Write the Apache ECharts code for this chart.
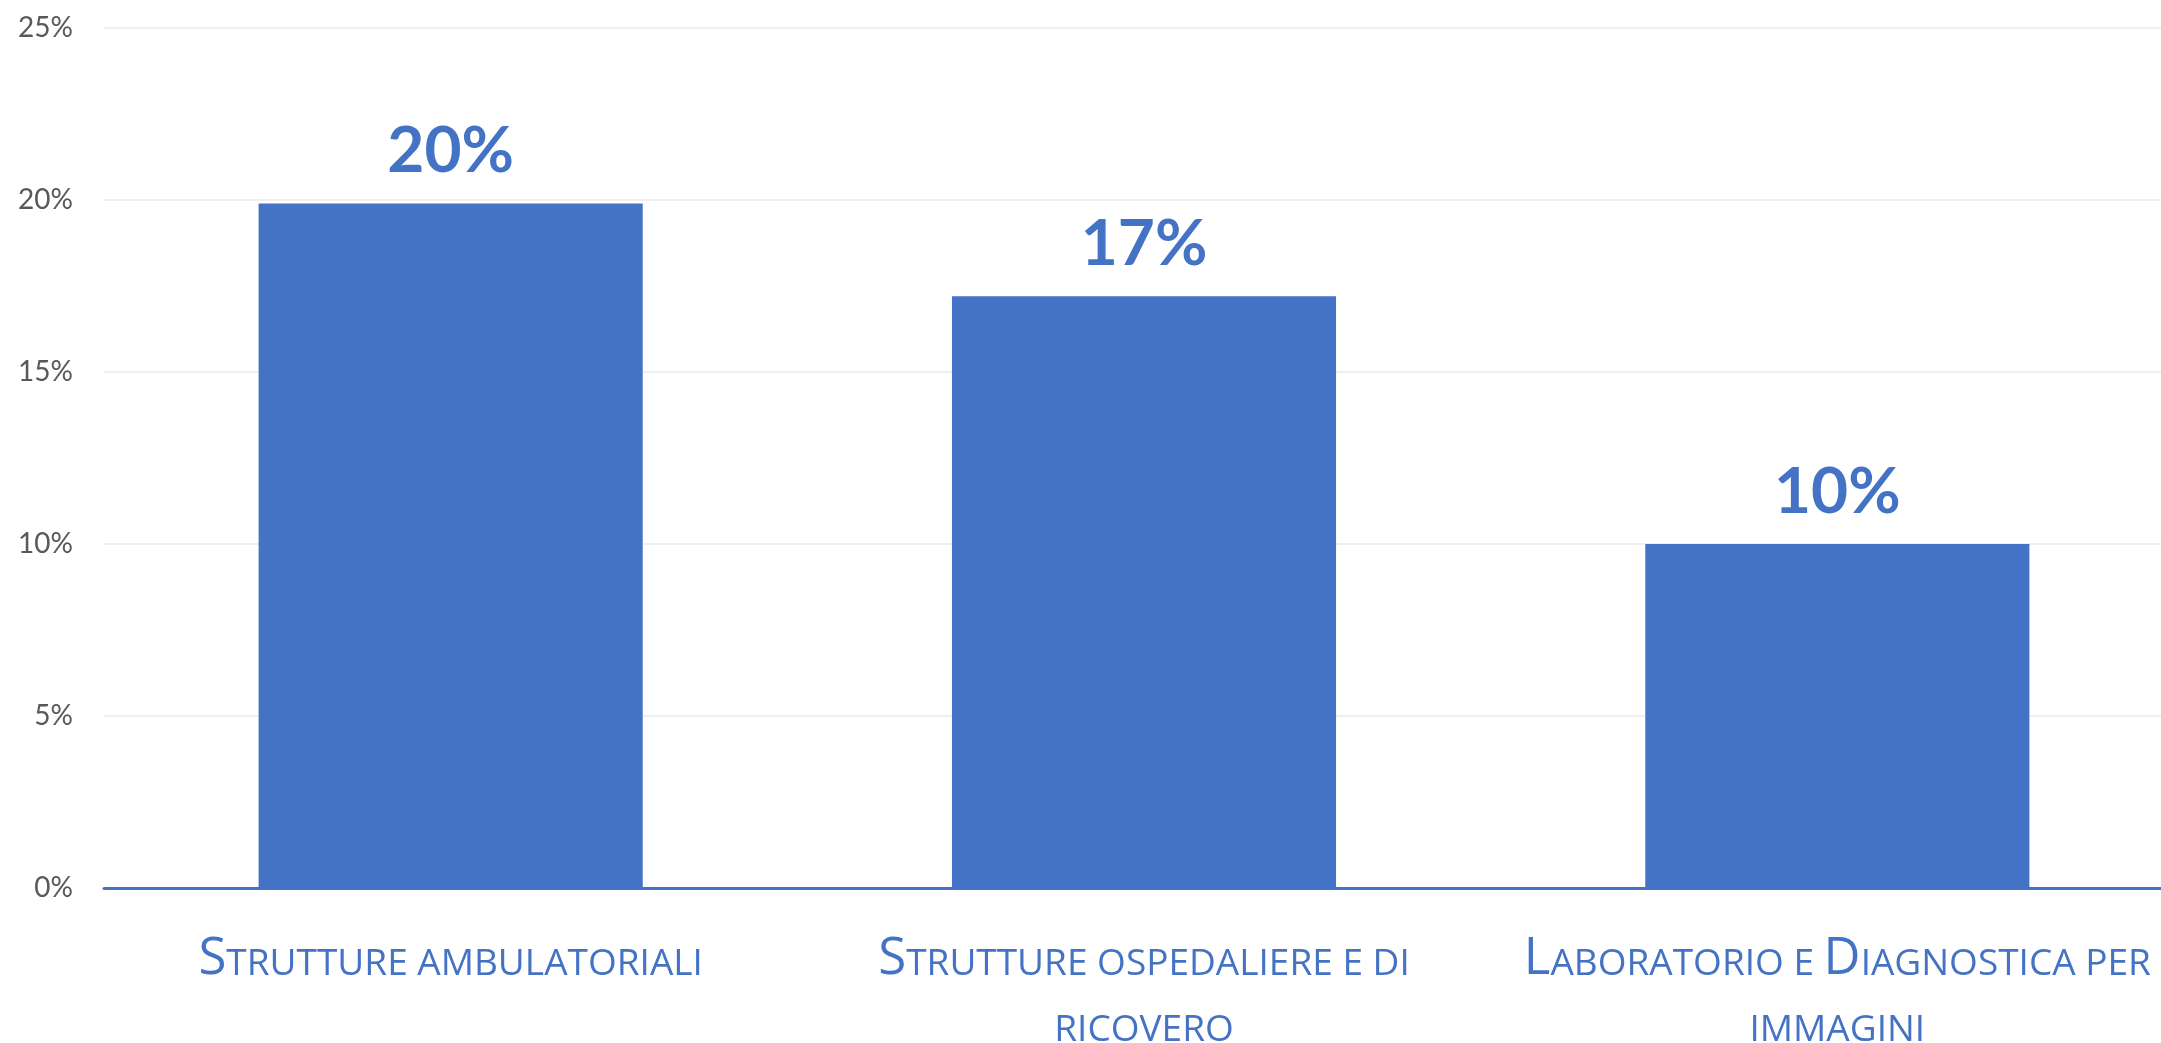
<!DOCTYPE html>
<html>
<head>
<meta charset="utf-8">
<title>Strutture</title>
<script src="https://cdn.jsdelivr.net/npm/echarts@6/dist/echarts.min.js"></script>
<style>
  html, body { margin: 0; padding: 0; background: #fff; }
  #chart { width: 2161px; height: 1043px; }
</style>
</head>
<body>
<div id="chart"></div>
<script>
  const categories = [
    'Strutture ambulatoriali',
    'Strutture ospedaliere e di\nricovero',
    'Laboratorio e Diagnostica per\nimmagini'
  ];
  const values = [19.9, 17.2, 10.0];
  const valueLabels = ['20%', '17%', '10%'];
  const yTicks = [0, 5, 10, 15, 20, 25];

  const blue = '#4472C4';

  // fake small caps: capital letters big, the rest upper-cased in a smaller size
  function smallCaps(text) {
    return text.split('\n').map(function (line) {
      let out = '';
      let buf = '';
      for (const ch of line) {
        if (ch !== ch.toLowerCase()) {
          if (buf) { out += '{s|' + buf.toUpperCase() + '}'; buf = ''; }
          out += '{b|' + ch + '}';
        } else {
          buf += ch;
        }
      }
      if (buf) out += '{s|' + buf.toUpperCase() + '}';
      return out;
    }).join('\n');
  }

  const chart = echarts.init(document.getElementById('chart'));
  chart.setOption({
    backgroundColor: '#fff',
    animation: false,
    grid: {
      left: 104, top: 28, width: 2080, bottom: 155,
      containLabel: false, outerBoundsMode: 'none'
    },
    xAxis: {
      type: 'category',
      data: categories,
      axisTick: { show: false },
      axisLine: { show: true, lineStyle: { color: blue, width: 3 } },
      axisLabel: {
        interval: 0,
        margin: 31,
        color: blue,
        formatter: function (v) { return smallCaps(v); },
        rich: {
          b: { fontFamily: 'Open Sans', fontSize: 51, color: blue, lineHeight: 66, verticalAlign: 'bottom' },
          s: { fontFamily: 'Open Sans', fontSize: 37, color: blue, lineHeight: 66, verticalAlign: 'bottom', padding: [0, 0, 2, 0] }
        }
      }
    },
    yAxis: {
      type: 'value',
      min: yTicks[0],
      max: yTicks[yTicks.length - 1],
      interval: 5,
      axisLine: { show: false },
      axisTick: { show: false },
      splitLine: { lineStyle: { color: '#efefef', width: 2 } },
      axisLabel: {
        margin: 31,
        color: '#595959',
        fontFamily: 'Lato',
        fontSize: 28,
        formatter: function (v) { return v + '%'; }
      }
    },
    series: [{
      type: 'bar',
      data: values,
      barWidth: '55.4%',
      itemStyle: { color: blue },
      label: {
        show: true,
        position: 'top',
        distance: 20,
        color: blue,
        fontFamily: 'Lato',
        fontWeight: 'bold',
        fontSize: 64,
        formatter: function (p) { return valueLabels[p.dataIndex]; }
      }
    }]
  });
</script>
</body>
</html>
